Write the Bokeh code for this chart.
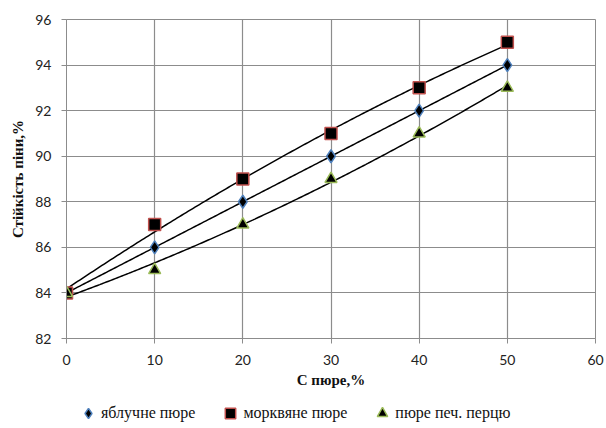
import numpy as np
from bokeh.plotting import figure
from bokeh.layouts import column
from bokeh.models import Legend, LegendItem, FixedTicker, Range1d
from bokeh.embed import file_html
from bokeh.resources import INLINE

# ---- data ----
x_vals = [0, 10, 20, 30, 40, 50]
apple = [84, 86, 88, 90, 92, 94]
carrot = [84, 87, 89, 91, 93, 95]
pepper = [84, 85, 87, 89, 91, 93]
series_labels = ["яблучне пюре", "морквяне пюре", "пюре печ. перцю"]
x_ticks = [0, 10, 20, 30, 40, 50, 60]
y_ticks = [82, 84, 86, 88, 90, 92, 94, 96]
x_title = "С пюре,%"
y_title = "Стійкість піни,%"

GRID = "#8c8c8c"
SANS = "Lato"
SERIF = "Liberation Serif"

styles = [dict(marker="diamond", size=13, line_color="#4F81BD"),
          dict(marker="square", size=12, line_color="#C0504D"),
          dict(marker="triangle", size=12, line_color="#9BBB59")]
series = [apple, carrot, pepper]

W = 604
p = figure(width=W, height=394, output_backend="svg", toolbar_location=None,
           x_range=Range1d(0, 60), y_range=Range1d(82, 96),
           min_border_left=66, min_border_right=9, min_border_top=19,
           min_border_bottom=56)

p.background_fill_color = "white"
p.border_fill_color = "white"
p.outline_line_color = GRID
p.outline_line_width = 1

for ax in (p.xaxis, p.yaxis):
    ax.axis_line_color = GRID
    ax.major_tick_line_color = GRID
    ax.major_tick_out = 5
    ax.major_tick_in = 0
    ax.minor_tick_line_color = None
    ax.major_label_text_font = SANS
    ax.major_label_text_font_size = "14px"
    ax.major_label_text_color = "#222222"
    ax.axis_label_text_font = SERIF
    ax.axis_label_text_font_style = "bold"
    ax.axis_label_text_font_size = "15px"
    ax.axis_label_text_color = "#111111"

p.xaxis.ticker = FixedTicker(ticks=x_ticks)
p.yaxis.ticker = FixedTicker(ticks=y_ticks)
p.xaxis.axis_label = x_title
p.yaxis.axis_label = y_title
p.xaxis.major_label_standoff = 11
p.yaxis.major_label_standoff = 10
p.xaxis.axis_label_standoff = 4
p.yaxis.axis_label_standoff = 6

p.xgrid.ticker = FixedTicker(ticks=x_ticks)
p.ygrid.ticker = FixedTicker(ticks=y_ticks)
p.xgrid.grid_line_color = GRID
p.ygrid.grid_line_color = GRID
p.xgrid.grid_line_width = 1.2
p.ygrid.grid_line_width = 1.2

# polynomial (order 2) trend lines
xs = np.linspace(0, 50, 200)
for ys in series:
    c = np.polyfit(x_vals, ys, 2)
    p.line(xs, np.polyval(c, xs), line_color="black", line_width=1.5)

for ys, st in zip(series, styles):
    p.scatter(x_vals, ys, fill_color="black", line_width=1.5, **st)

# legend strip below the chart (its own small figure, same data off-canvas)
lf = figure(width=W, height=32, output_backend="svg", toolbar_location=None,
            x_range=Range1d(0, 1), y_range=Range1d(0, 1),
            x_axis_type=None, y_axis_type=None,
            min_border_left=0, min_border_right=0, min_border_top=0,
            min_border_bottom=0)
lf.outline_line_color = None
lf.xgrid.visible = False
lf.ygrid.visible = False
items = []
for ys, st, lab in zip(series, styles, series_labels):
    r = lf.scatter(x_vals, ys, fill_color="black", line_width=1.5, **st)
    items.append(LegendItem(label=lab, renderers=[r]))

legend = Legend(items=items, orientation="horizontal", location=(9, 0))
legend.border_line_color = None
legend.background_fill_alpha = 0
legend.label_text_font = SERIF
legend.label_text_font_size = "16px"
legend.label_text_color = "#111111"
legend.glyph_width = 26
legend.glyph_height = 26
legend.label_height = 26
legend.label_standoff = 0
legend.spacing = 22
legend.padding = 0
legend.margin = 0
lf.add_layout(legend, "center")

layout = column(p, lf, spacing=0)
open("out.html", "w").write(file_html(layout, INLINE))
